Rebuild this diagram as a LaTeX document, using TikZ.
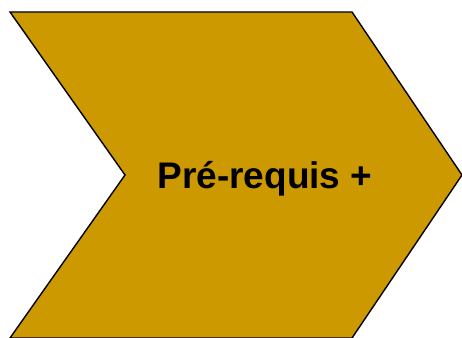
\documentclass[tikz,border=0pt]{standalone}
\usepackage{fontspec}
\setmainfont{Liberation Sans}
\usepackage{tikz}
\definecolor{chevronGold}{HTML}{CC9900}

\begin{document}
\begin{tikzpicture}[
        x=1pt, y=1pt,
        chevron/.style={draw=black, fill=chevronGold, line width=1.4pt, line join=miter},
        label/.style={font=\fontsize{37}{40}\selectfont\bfseries, text=black}
    ]
        \useasboundingbox (0,0) rectangle (462,337);
        \draw[chevron] (10,325) -- (352,325) -- (462,162) -- (352,-1) -- (10,-1) -- (125,162) -- cycle;
        \node[label] (prerequis) at (265,158) {Pré-requis +};
    \end{tikzpicture}
\end{document}
